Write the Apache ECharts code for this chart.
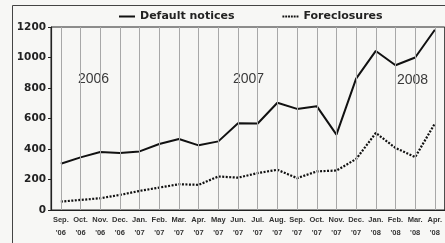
<!DOCTYPE html>
<html><head><meta charset="utf-8">
<script src="https://cdn.jsdelivr.net/npm/echarts@6/dist/echarts.min.js"></script>
<style>html,body{margin:0;padding:0;background:#f7f7f5;}#c{width:445px;height:243px;}</style>
</head><body><div id="c"></div>
<script>
const months = ['Sep.','Oct.','Nov.','Dec.','Jan.','Feb.','Mar.','Apr.','May','Jun.','Jul.','Aug.','Sep.','Oct.','Nov.','Dec.','Jan.','Feb.','Mar.','Apr.'];
const years = ["'06","'06","'06","'06","'07","'07","'07","'07","'07","'07","'07","'07","'07","'07","'07","'07","'08","'08","'08","'08"];
const defaultNotices = [303,345,380,373,384,433,466,424,450,569,567,703,663,681,494,861,1043,949,1000,1182];
const foreclosures = [55,66,77,99,125,147,169,165,220,212,242,264,209,253,259,334,505,407,347,567];
const yTicks = [0,200,400,600,800,1000,1200];
const yearLabels = [{t:'2006',x:78,y:72},{t:'2007',x:233,y:72},{t:'2008',x:397,y:73}];

const cats = months.map((m,i)=>m+'\n'+years[i]);
const chart = echarts.init(document.getElementById('c'), null, {renderer:'canvas'});
const font = 'Liberation Sans';
const dotPath = 'path://' + Array.from({length:6},(_,i)=>`M${i*3},0h2v2h-2z`).join(' ');
chart.setOption({
  animation:false,
  backgroundColor:'#f7f7f5',
  grid:{left:51, width:400, top:27, bottom:33, show:true, borderColor:'#222', borderWidth:1, backgroundColor:'transparent'},
  legend:{
    left:119, top:11, padding:0, itemWidth:16, itemHeight:2, itemGap:48,
    data:[{name:'Default notices', icon:'rect'},{name:'Foreclosures', icon:dotPath}],
    textStyle:{fontFamily:'DejaVu Sans', fontWeight:'bold', fontSize:11, color:'#222'}
  },
  xAxis:{
    type:'category', data:cats, boundaryGap:true,
    axisLine:{lineStyle:{color:'#222', width:1.2}},
    axisTick:{show:false},
    splitLine:{show:false},
    axisLabel:{interval:0, fontFamily:font, fontWeight:'bold', fontSize:7.5, color:'#333', lineHeight:13, margin:3}
  },
  yAxis:{
    type:'value', min:0, max:1200, interval:200,
    axisLine:{show:true, lineStyle:{color:'#222', width:1.2}},
    axisTick:{show:true, length:3, lineStyle:{color:'#222'}},
    splitLine:{show:false},
    axisLabel:{fontFamily:'DejaVu Sans', fontWeight:'bold', fontSize:10.5, color:'#222', margin:5,
      formatter:v=>String(v)}
  },
  series:[
    {name:'grid', type:'line', data:[], z:1, silent:true,
      markLine:{silent:true, symbol:'none', label:{show:false},
        lineStyle:{color:'#a8a8a8', width:1, type:'solid'},
        data: cats.map(c=>({xAxis:c}))}},
    {name:'Default notices', type:'line', data:defaultNotices, symbol:'none', z:3,
      lineStyle:{color:'#111', width:2}, itemStyle:{color:'#111'}},
    {name:'Foreclosures', type:'line', data:foreclosures, symbol:'none', z:3,
      lineStyle:{color:'#111', width:2.2, type:[2,1.5]}, itemStyle:{color:'#111'}}
  ],
  graphic:[
    {type:'rect', shape:{x:12.5,y:5.5,width:440,height:240}, style:{fill:'none', stroke:'#444', lineWidth:1}, silent:true},
    ...yearLabels.map(l=>({type:'text', left:l.x, top:l.y, style:{text:l.t, font:'14px '+font, fill:'#3a3a3a'}}))
  ]
});
</script></body></html>
